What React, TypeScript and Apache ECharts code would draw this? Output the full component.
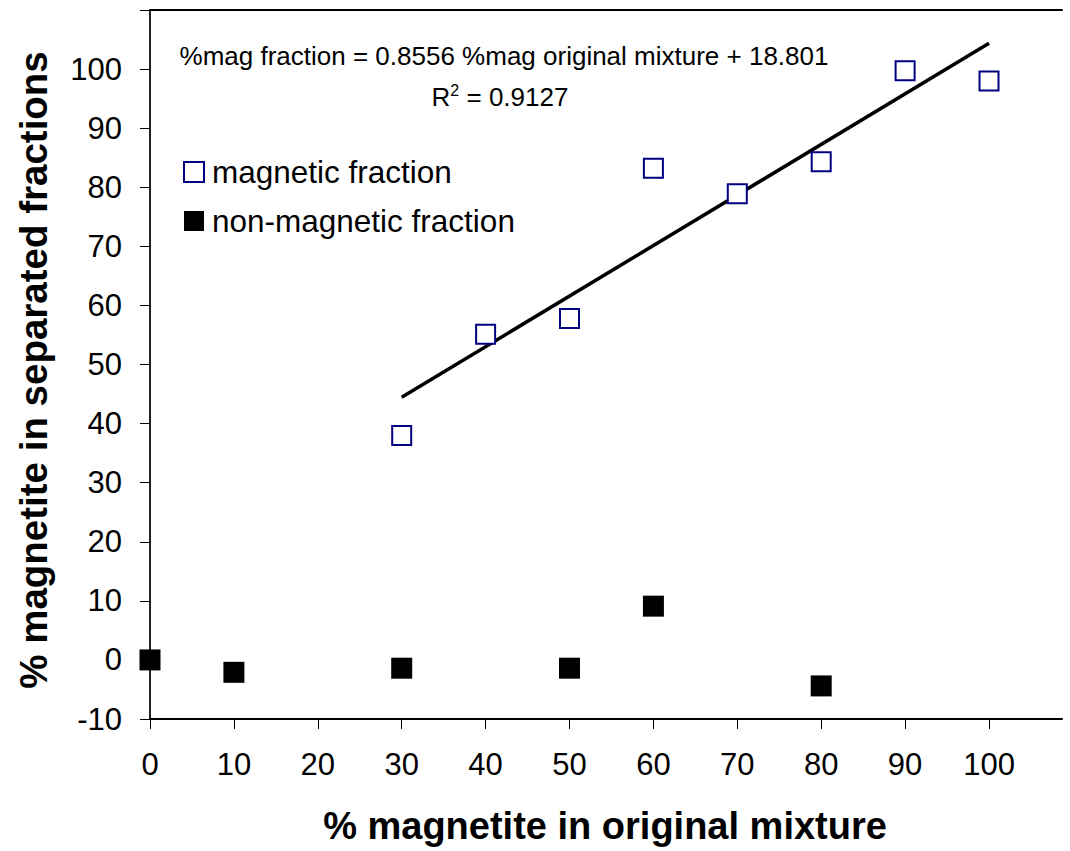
import React, { useEffect, useRef } from "react";
import * as echarts from "echarts";

const magX = [30, 40, 50, 60, 70, 80, 90, 100];
const magY = [38.0, 55.1, 57.8, 83.2, 78.9, 84.3, 99.7, 98.0];
const nonMagX = [0, 10, 30, 50, 60, 80];
const nonMagY = [0.0, -2.1, -1.4, -1.4, 9.1, -4.4];
const trendSlope = 0.8556;
const trendIntercept = 18.801;
const trendRangeX = [30, 100];
const xTicks = [0, 10, 20, 30, 40, 50, 60, 70, 80, 90, 100];
const yTicks = [-10, 0, 10, 20, 30, 40, 50, 60, 70, 80, 90, 100, 110];
const yLabels = [-10, 0, 10, 20, 30, 40, 50, 60, 70, 80, 90, 100];

const FONT = "'Liberation Sans', Arial, sans-serif";

export default function App() {
  const ref = useRef<HTMLDivElement>(null);
  useEffect(() => {
    if (!ref.current) return;
    const chart = echarts.init(ref.current, undefined, { renderer: "svg" });
    const magData = magX.map((x, i) => [x, magY[i]]);
    const nonMagData = nonMagX.map((x, i) => [x, nonMagY[i]]);
    const trendData = trendRangeX.map((x) => [x, trendSlope * x + trendIntercept]);
    const axisLineStyle = { color: "#000", width: 2 };
    chart.setOption({
      animation: false,
      backgroundColor: "#fff",
      textStyle: { fontFamily: FONT },
      grid: { left: 150, right: 8, top: 10, bottom: 132 },
      xAxis: [
        {
          type: "value",
          min: 0,
          max: 108.7,
          interval: 10,
          position: "bottom",
          axisLine: { show: true, onZero: false, lineStyle: axisLineStyle },
          axisTick: {
            show: true,
            inside: false,
            length: 10,
            lineStyle: { color: "#000", width: 1 },
            customValues: xTicks,
          },
          axisLabel: {
            show: true,
            fontSize: 31,
            fontFamily: FONT,
            color: "#000",
            margin: 30,
            customValues: xTicks,
          },
          splitLine: { show: false },
        },
        {
          type: "value",
          min: 0,
          max: 108.7,
          position: "top",
          axisLine: { show: true, onZero: false, lineStyle: axisLineStyle },
          axisTick: { show: false },
          axisLabel: { show: false },
          splitLine: { show: false },
        },
      ],
      yAxis: {
        type: "value",
        min: -10,
        max: 110,
        interval: 10,
        axisLine: { show: true, onZero: false, lineStyle: { color: "#222", width: 2 } },
        axisTick: {
          show: true,
          inside: false,
          length: 10,
          lineStyle: { color: "#000", width: 1 },
          customValues: yTicks,
        },
        axisLabel: {
          show: true,
          fontSize: 31,
          fontFamily: FONT,
          color: "#000",
          margin: 28,
          customValues: yLabels,
        },
        splitLine: { show: false },
      },
      legend: {
        show: true,
        orient: "vertical",
        left: 183,
        top: 156,
        padding: 0,
        itemWidth: 20,
        itemHeight: 20,
        itemGap: 17,
        data: ["magnetic fraction", "non-magnetic fraction"],
        textStyle: { fontSize: 31.5, fontFamily: FONT, color: "#000", padding: [0, 0, 0, 3] },
      },
      series: [
        {
          name: "trend",
          type: "line",
          data: trendData,
          showSymbol: false,
          symbol: "none",
          lineStyle: { color: "#000", width: 3.5 },
          z: 1,
        },
        {
          name: "magnetic fraction",
          type: "scatter",
          data: magData,
          symbol: "rect",
          symbolSize: 19,
          itemStyle: { color: "#fff", borderColor: "#000080", borderWidth: 2, opacity: 1 },
          z: 3,
        },
        {
          name: "non-magnetic fraction",
          type: "scatter",
          data: nonMagData,
          symbol: "rect",
          symbolSize: 21,
          itemStyle: { color: "#000", opacity: 1 },
          z: 3,
        },
      ],
      graphic: [
        {
          type: "text",
          x: 504,
          y: 56,
          style: {
            text: "%mag fraction = 0.8556 %mag original mixture + 18.801",
            fontSize: 26,
            fontFamily: FONT,
            fill: "#000",
            textAlign: "center",
            textVerticalAlign: "middle",
          },
        },
        {
          type: "text",
          x: 500,
          y: 97,
          style: {
            text: "{a|R}{s|2}{a| = 0.9127}",
            textAlign: "center",
            textVerticalAlign: "middle",
            rich: {
              a: { fontSize: 26, fontFamily: FONT, fill: "#000", color: "#000" },
              s: {
                fontSize: 16,
                fontFamily: FONT,
                fill: "#000",
                color: "#000",
                verticalAlign: "top",
                padding: [0, 0, 14, 0],
              },
            },
          },
        },
        {
          type: "text",
          x: 605,
          y: 826,
          style: {
            text: "% magnetite in original mixture",
            fontSize: 38,
            fontWeight: "bold",
            fontFamily: FONT,
            fill: "#000",
            textAlign: "center",
            textVerticalAlign: "middle",
          },
        },
        {
          type: "text",
          x: 33,
          y: 370,
          rotation: Math.PI / 2,
          style: {
            text: "% magnetite in separated fractions",
            fontSize: 38.5,
            fontWeight: "bold",
            fontFamily: FONT,
            fill: "#000",
            textAlign: "center",
            textVerticalAlign: "middle",
          },
        },
      ],
    });
    return () => chart.dispose();
  }, []);
  return <div ref={ref} style={{ width: 1070, height: 851, position: "absolute", left: 0, top: 0 }} />;
}
